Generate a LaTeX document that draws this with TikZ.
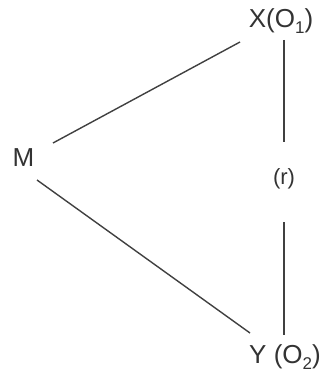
\documentclass[tikz,border=0pt]{standalone}
\usepackage{fontspec}
\setmainfont{Liberation Sans}
\newcommand{\lowidx}[1]{\raisebox{-0.25em}{\fontsize{17}{17}\selectfont #1}}
\begin{document}
\begin{tikzpicture}[x=1pt,y=-1pt,
  lbl/.style={inner sep=0pt, text=black!80, font=\fontsize{26}{28}\selectfont},
  conn/.style={draw=black!75, line width=1.4pt}]
\useasboundingbox (0,0) rectangle (323,379);
\node[lbl] (M) at (23.5,157.5) {M};
\node[lbl] (X) at (281,21) {X(O\lowidx{1})};
\node[lbl] (Y) at (285,357) {Y (O\lowidx{2})};
\node[lbl, font=\fontsize{22}{24}\selectfont] (R) at (284,179) {(r)};
\coordinate (mx) at (53,143);
\coordinate (xm) at (240,42);
\coordinate (my) at (37,180);
\coordinate (ym) at (250,333);
\coordinate (xr) at (284,40);
\coordinate (rx) at (284,142);
\coordinate (ry) at (284,222);
\coordinate (yr) at (284,335);
\draw[conn] (mx) -- (xm);
\draw[conn] (my) -- (ym);
\draw[conn] (xr) -- (rx);
\draw[conn] (ry) -- (yr);
\end{tikzpicture}
\end{document}
